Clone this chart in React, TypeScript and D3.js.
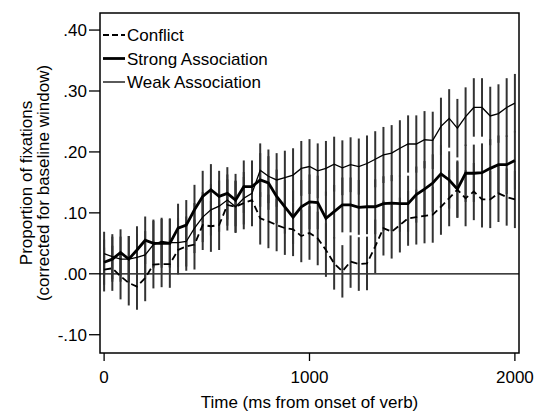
import React, { useEffect, useRef } from 'react';
import * as d3 from 'd3';

// time points (ms from onset of verb)
const times = [
  0, 40, 80, 120, 160, 200, 240, 280, 320, 360, 400, 440, 480, 520, 560, 600, 640,
  680, 720, 760, 800, 840, 880, 920, 960, 1000, 1040, 1080, 1120, 1160, 1200, 1240,
  1280, 1320, 1360, 1400, 1440, 1480, 1520, 1560, 1600, 1640, 1680, 1720, 1760, 1800,
  1840, 1880, 1920, 1960, 2000,
];

const conflict = [
  0.007, 0.009, -0.004, -0.015, -0.021, -0.007, 0.015, 0.016, 0.016, 0.039, 0.045,
  0.048, 0.08, 0.078, 0.08, 0.113, 0.11, 0.116, 0.121, 0.091, 0.086, 0.08, 0.075,
  0.073, 0.062, 0.067, 0.058, 0.039, 0.017, 0.004, 0.02, 0.016, 0.017, 0.045, 0.075,
  0.069, 0.08, 0.091, 0.093, 0.095, 0.097, 0.11, 0.124, 0.138, 0.124, 0.135, 0.122,
  0.122, 0.132, 0.126, 0.122,
];

const strong = [
  0.019, 0.024, 0.035, 0.024, 0.039, 0.055, 0.05, 0.05, 0.05, 0.075, 0.08, 0.105,
  0.127, 0.138, 0.127, 0.132, 0.121, 0.143, 0.143, 0.154, 0.149, 0.127, 0.11, 0.093,
  0.11, 0.118, 0.117, 0.091, 0.102, 0.113, 0.113, 0.109, 0.11, 0.11, 0.115, 0.116,
  0.115, 0.115, 0.13, 0.139, 0.149, 0.164, 0.154, 0.139, 0.165, 0.165, 0.166, 0.173,
  0.179, 0.179, 0.186,
];

const weak = [
  0.033, 0.028, 0.024, 0.024, 0.027, 0.031, 0.048, 0.053, 0.051, 0.051, 0.053, 0.075,
  0.093, 0.105, 0.111, 0.121, 0.11, 0.124, 0.132, 0.17, 0.16, 0.154, 0.158, 0.162,
  0.173, 0.176, 0.169, 0.173, 0.18, 0.174, 0.179, 0.176, 0.181, 0.188, 0.195, 0.198,
  0.206, 0.213, 0.213, 0.22, 0.219, 0.242, 0.255, 0.239, 0.258, 0.273, 0.273, 0.259,
  0.263, 0.273, 0.28,
];

// half-widths of the error bars
const conflictErr = [
  0.036, 0.037, 0.038, 0.037, 0.038, 0.038, 0.039, 0.038, 0.039, 0.04, 0.04, 0.041,
  0.041, 0.042, 0.041, 0.042, 0.042, 0.043, 0.043, 0.043, 0.044, 0.043, 0.044, 0.044,
  0.043, 0.044, 0.044, 0.044, 0.043, 0.043, 0.043, 0.044, 0.044, 0.044, 0.045, 0.044,
  0.045, 0.045, 0.045, 0.045, 0.046, 0.046, 0.046, 0.046, 0.046, 0.047, 0.046, 0.047,
  0.047, 0.047, 0.047,
];

const strongErr = [
  0.037, 0.037, 0.038, 0.038, 0.039, 0.039, 0.039, 0.04, 0.04, 0.04, 0.041, 0.041,
  0.042, 0.042, 0.042, 0.043, 0.043, 0.043, 0.043, 0.044, 0.044, 0.044, 0.044, 0.044,
  0.044, 0.045, 0.044, 0.044, 0.044, 0.045, 0.045, 0.045, 0.045, 0.045, 0.045, 0.046,
  0.046, 0.046, 0.046, 0.046, 0.047, 0.047, 0.047, 0.047, 0.047, 0.047, 0.048, 0.048,
  0.048, 0.048, 0.048,
];

const weakErr = [
  0.036, 0.037, 0.037, 0.038, 0.038, 0.039, 0.039, 0.039, 0.04, 0.04, 0.041, 0.041,
  0.041, 0.042, 0.042, 0.042, 0.043, 0.043, 0.043, 0.044, 0.044, 0.044, 0.044, 0.044,
  0.045, 0.045, 0.045, 0.045, 0.045, 0.045, 0.045, 0.046, 0.046, 0.046, 0.046, 0.046,
  0.046, 0.047, 0.047, 0.047, 0.047, 0.047, 0.048, 0.048, 0.048, 0.048, 0.048, 0.048,
  0.048, 0.048, 0.048,
];

const yTicks = [-0.1, 0, 0.1, 0.2, 0.3, 0.4];
const xTicks = [0, 1000, 2000];
const legendLabels = ['Conflict', 'Strong Association', 'Weak Association'];

const FONT = "'Liberation Sans', Arial, sans-serif";

const App = () => {
  const svgRef = useRef<SVGSVGElement>(null);

  useEffect(() => {
    const width = 535;
    const height = 411;
    const box = { left: 100, right: 519, top: 13, bottom: 353 };

    d3.select(svgRef.current).selectAll('*').remove();
    const svg = d3.select(svgRef.current).attr('width', width).attr('height', height);

    const x = d3.scaleLinear().domain([-20, 2020]).range([box.left, box.right]);
    const y = d3.scaleLinear().domain([-0.13, 0.428]).range([box.bottom, box.top]);

    const series = [
      { vals: conflict, err: conflictErr, width: 1.8, dash: '7,4' },
      { vals: strong, err: strongErr, width: 2.8, dash: null },
      { vals: weak, err: weakErr, width: 1.3, dash: null },
    ];

    // zero line
    svg
      .append('line')
      .attr('x1', box.left)
      .attr('x2', box.right)
      .attr('y1', y(0))
      .attr('y2', y(0))
      .attr('stroke', '#000')
      .attr('stroke-width', 1.3);

    // error bars
    series.forEach((s) => {
      svg
        .append('g')
        .selectAll('line')
        .data(times)
        .enter()
        .append('line')
        .attr('x1', (t) => x(t))
        .attr('x2', (t) => x(t))
        .attr('y1', (t, i) => y(s.vals[i] - s.err[i]))
        .attr('y2', (t, i) => y(s.vals[i] + s.err[i]))
        .attr('stroke', '#333')
        .attr('stroke-width', 2);
    });

    // lines
    series.forEach((s) => {
      const line = d3
        .line<number>()
        .x((t) => x(t))
        .y((t, i) => y(s.vals[i]));
      svg
        .append('path')
        .datum(times)
        .attr('d', line)
        .attr('fill', 'none')
        .attr('stroke', '#000')
        .attr('stroke-width', s.width)
        .attr('stroke-dasharray', s.dash);
    });

    // frame
    svg
      .append('rect')
      .attr('x', box.left)
      .attr('y', box.top)
      .attr('width', box.right - box.left)
      .attr('height', box.bottom - box.top)
      .attr('fill', 'none')
      .attr('stroke', '#000')
      .attr('stroke-width', 1.5);

    // Y axis ticks
    const fmt = (v: number) =>
      (v < 0 ? '-' : '') + Math.abs(v).toFixed(2).replace(/^0/, '');
    const yAxis = svg.append('g');
    yAxis
      .selectAll('line')
      .data(yTicks)
      .enter()
      .append('line')
      .attr('x1', box.left - 11)
      .attr('x2', box.left)
      .attr('y1', (d) => y(d))
      .attr('y2', (d) => y(d))
      .attr('stroke', '#000')
      .attr('stroke-width', 1.3);
    yAxis
      .selectAll('text')
      .data(yTicks)
      .enter()
      .append('text')
      .attr('x', box.left - 13)
      .attr('y', (d) => y(d))
      .attr('dy', '0.36em')
      .attr('text-anchor', 'end')
      .attr('font-family', FONT)
      .attr('font-size', 17)
      .text(fmt);

    // X axis ticks
    const xAxis = svg.append('g');
    xAxis
      .selectAll('line')
      .data(xTicks)
      .enter()
      .append('line')
      .attr('x1', (d) => x(d))
      .attr('x2', (d) => x(d))
      .attr('y1', box.bottom)
      .attr('y2', box.bottom + 8)
      .attr('stroke', '#000')
      .attr('stroke-width', 1.3);
    xAxis
      .selectAll('text')
      .data(xTicks)
      .enter()
      .append('text')
      .attr('x', (d) => x(d))
      .attr('y', box.bottom + 30)
      .attr('text-anchor', 'middle')
      .attr('font-family', FONT)
      .attr('font-size', 17)
      .text((d) => d);

    // axis titles
    svg
      .append('text')
      .attr('x', (box.left + box.right) / 2)
      .attr('y', 408)
      .attr('text-anchor', 'middle')
      .attr('font-family', FONT)
      .attr('font-size', 17)
      .text('Time (ms from onset of verb)');

    const yTitle = svg
      .append('text')
      .attr('transform', `translate(0,${(box.top + box.bottom) / 2}) rotate(-90)`)
      .attr('text-anchor', 'middle')
      .attr('font-family', FONT)
      .attr('font-size', 17);
    yTitle.append('tspan').attr('x', 0).attr('y', 32).text('Proportion of fixations');
    yTitle.append('tspan').attr('x', 0).attr('y', 49).text('(corrected for baseline window)');

    // legend
    const legend = svg.append('g');
    legendLabels.forEach((label, i) => {
      const ly = 35 + i * 23.5;
      legend
        .append('line')
        .attr('x1', box.left + 3)
        .attr('x2', box.left + 25)
        .attr('y1', ly)
        .attr('y2', ly)
        .attr('stroke', '#000')
        .attr('stroke-width', series[i].width)
        .attr('stroke-dasharray', series[i].dash ? '6,3' : null);
      legend
        .append('text')
        .attr('x', box.left + 27)
        .attr('y', ly)
        .attr('dy', '0.36em')
        .attr('font-family', FONT)
        .attr('font-size', 17)
        .text(label);
    });
  }, []);

  return (
    <svg
      ref={svgRef}
      style={{ position: 'absolute', left: 0, top: 0, background: '#fff' }}
    ></svg>
  );
};

export default App;
